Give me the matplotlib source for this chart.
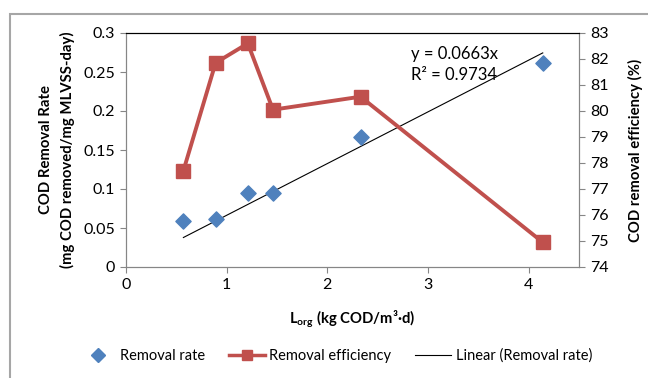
import numpy as np
import matplotlib.pyplot as plt
from matplotlib.lines import Line2D
from matplotlib.patches import Rectangle

plt.rcParams['font.family'] = ['Lato', 'DejaVu Sans']
plt.rcParams['mathtext.fontset'] = 'custom'
plt.rcParams['mathtext.rm'] = 'Lato'
plt.rcParams['mathtext.bf'] = 'Lato:bold'

# data
l_org = [0.57, 0.89, 1.21, 1.46, 2.33, 4.14]
removal_rate = [0.059, 0.061, 0.095, 0.095, 0.167, 0.262]
removal_eff = [77.7, 81.85, 82.6, 80.05, 80.55, 74.95]
slope = 0.0663
r2 = 0.9734

blue = '#4f81bd'
red = '#c0504d'
gray = '#868686'

fig = plt.figure(figsize=(6.48, 3.78), dpi=100)
ax = fig.add_axes([126 / 648, 1 - 267 / 378, (579 - 126) / 648, (267 - 33) / 378])

# outer chart border (partly cut off in the original)
fig.patches.append(Rectangle((10 / 648, -0.05), 1.0, 1 - 14 / 378 + 0.05,
                             transform=fig.transFigure, fill=False,
                             edgecolor='#a6a6a6', linewidth=1.5))

ax.scatter(l_org, removal_rate, marker='D', s=60, color=blue, zorder=3)
xs = np.array([l_org[0], l_org[-1]])
ax.plot(xs, slope * xs, color='black', linewidth=0.8, zorder=2)
ax.set_xlim(0, 4.5)
ax.set_ylim(0, 0.3)
ax.set_xticks([0, 1, 2, 3, 4])
ax.set_yticks(np.arange(0, 0.31, 0.05))
ax.set_yticklabels(['0', '0.05', '0.1', '0.15', '0.2', '0.25', '0.3'])

ax2 = ax.twinx()
ax2.plot(l_org, removal_eff, color=red, linewidth=2.8, marker='s',
         markersize=10, zorder=3)
ax2.set_ylim(74, 83)
ax2.set_yticks(range(74, 84))

for a in (ax, ax2):
    for side in ('left', 'right', 'bottom'):
        a.spines[side].set_color(gray)
    a.spines['top'].set_color('black')
    a.spines['top'].set_linewidth(0.8)
    a.tick_params(colors=gray, labelcolor='black', labelsize=11.5, length=4,
                  direction='out', pad=4)

ax.set_ylabel('COD Removal Rate\n(mg COD removed/mg MLVSS-day)',
              fontsize=10.7, fontweight='bold', linespacing=1.55, labelpad=6)
ax2.set_ylabel('COD removal efficiency (%)', fontsize=10.7, fontweight='bold',
               labelpad=14)
ax.set_xlabel(r'L$_{\mathbf{org}}$ (kg COD/m³·d)',
              fontsize=10.7, fontweight='bold', labelpad=12)

ax.text(2.83, 0.273, 'y = 0.0663x', fontsize=12, va='center')
ax.text(2.83, 0.246, 'R² = %.4f' % r2, fontsize=12, va='center')

handles = [
    Line2D([], [], linestyle='none', marker='D', color=blue, markersize=7),
    Line2D([], [], color=red, linewidth=2.5, marker='s', markersize=7),
    Line2D([], [], color='black', linewidth=0.8),
]
fig.legend(handles, ['Removal rate', 'Removal efficiency', 'Linear (Removal rate)'],
           loc='center', bbox_to_anchor=(0.518, 1 - 356 / 378), ncol=3,
           frameon=False, fontsize=10.5, handlelength=2.5, handletextpad=0.3,
           columnspacing=1.6)

fig.savefig('out.png', dpi=100)
